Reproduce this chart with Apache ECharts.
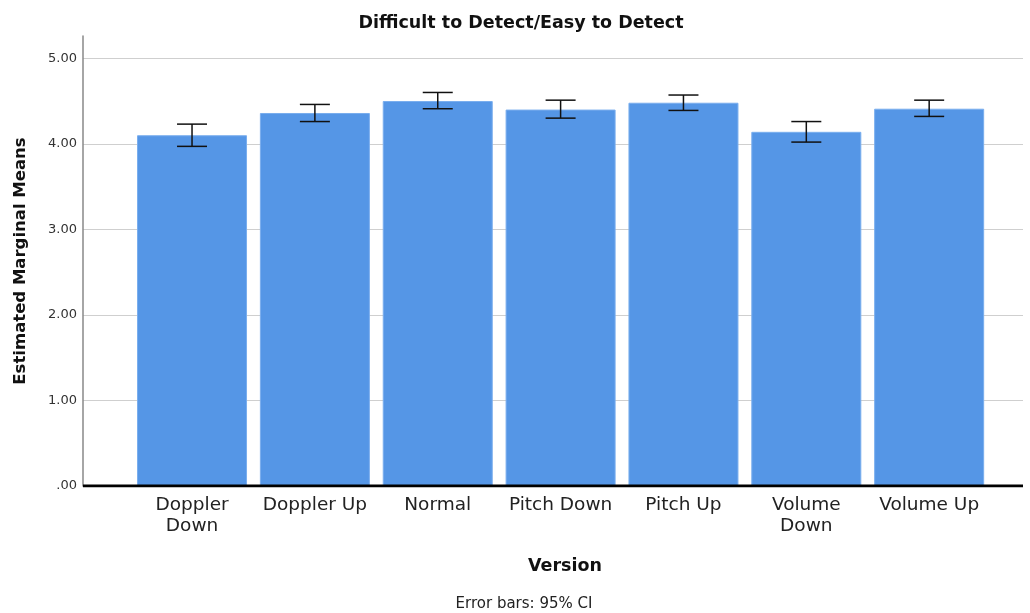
<!DOCTYPE html>
<html>
<head>
<meta charset="utf-8">
<script src="https://cdn.jsdelivr.net/npm/echarts@6/dist/echarts.min.js"></script>
<style>
  html, body { margin: 0; padding: 0; background: #fff; }
  #chart { width: 1030px; height: 613px; }
</style>
</head>
<body>
<div id="chart"></div>
<script>
  // data
  const versions = ["Doppler\nDown", "Doppler Up", "Normal", "Pitch Down", "Pitch Up", "Volume\nDown", "Volume Up"];
  const means = [4.10, 4.36, 4.50, 4.40, 4.48, 4.14, 4.41];
  const ciLow = [3.97, 4.26, 4.41, 4.30, 4.39, 4.02, 4.32];
  const ciHigh = [4.23, 4.46, 4.60, 4.51, 4.57, 4.26, 4.51];
  const yTicks = [0, 1, 2, 3, 4, 5];

  const font = "DejaVu Sans";
  const yMax = 5.26;

  const chart = echarts.init(document.getElementById("chart"));

  const errData = versions.map((v, i) => [i, ciLow[i], ciHigh[i]]);

  const option = {
    animation: false,
    textStyle: { fontFamily: font },
    title: [
      { text: "Difficult to Detect/Easy to Detect", left: 516, top: 9, textAlign: "center",
        textStyle: { fontFamily: font, fontSize: 17.5, fontWeight: "bold", color: "#111" } },
      { text: "Version", left: 560, top: 552, textAlign: "center",
        textStyle: { fontFamily: font, fontSize: 17.5, fontWeight: "bold", color: "#111" } },
      { text: "Error bars: 95% CI", left: 519, top: 592, textAlign: "center",
        textStyle: { fontFamily: font, fontSize: 15, fontWeight: "normal", color: "#222" } }
    ],
    grid: [
      { left: 83, right: 7, top: 36, bottom: 127 },
      { left: 130.6, width: 860, top: 36, bottom: 127 }
    ],
    xAxis: [
      { gridIndex: 0, type: "value", min: 0, max: 1,
        axisLine: { show: false }, axisTick: { show: false }, axisLabel: { show: false }, splitLine: { show: false } },
      { gridIndex: 1, type: "category", data: versions,
        axisLine: { show: false }, axisTick: { show: false },
        axisLabel: { fontFamily: font, fontSize: 18.5, color: "#222", margin: 9, lineHeight: 21, interval: 0 } }
    ],
    yAxis: [
      { gridIndex: 0, type: "value", min: 0, max: yMax, interval: 1,
        axisLine: { show: true, lineStyle: { color: "#888", width: 1.5 } },
        axisTick: { show: false },
        axisLabel: { showMaxLabel: false, fontFamily: font, fontSize: 13, color: "#333", margin: 6,
          formatter: v => yTicks.includes(v) ? (v === 0 ? ".00" : v.toFixed(2)) : "" },
        splitLine: { showMaxLine: false, lineStyle: { color: "#cfcfcf", width: 1.2 } },
        name: "Estimated Marginal Means", nameLocation: "middle", nameGap: 54,
        nameTextStyle: { fontFamily: font, fontSize: 16.5, fontWeight: "bold", color: "#111" } },
      { gridIndex: 1, type: "value", min: 0, max: yMax, show: false, splitLine: { show: false } }
    ],
    series: [
      {
        type: "bar", xAxisIndex: 1, yAxisIndex: 1, data: means, barWidth: 110,
        itemStyle: { color: "#5596e6", borderColor: "#7aaeee", borderWidth: 1 },
        z: 2
      },
      {
        type: "custom", xAxisIndex: 1, yAxisIndex: 1, data: errData, z: 5,
        renderItem: function (params, api) {
          const x = api.coord([api.value(0), 0])[0];
          const lo = api.coord([api.value(0), api.value(1)])[1];
          const hi = api.coord([api.value(0), api.value(2)])[1];
          const half = 15;
          const style = { stroke: "#111", lineWidth: 1.5 };
          return {
            type: "group",
            children: [
              { type: "line", shape: { x1: x, y1: lo, x2: x, y2: hi }, style },
              { type: "line", shape: { x1: x - half, y1: lo, x2: x + half, y2: lo }, style },
              { type: "line", shape: { x1: x - half, y1: hi, x2: x + half, y2: hi }, style }
            ]
          };
        }
      },
      {
        // thick black baseline across the plot
        type: "line", xAxisIndex: 0, yAxisIndex: 0, data: [[0, 0], [1, 0]],
        symbol: "none", lineStyle: { color: "#000", width: 3 }, z: 6, silent: true
      }
    ]
  };

  chart.setOption(option);
</script>
</body>
</html>
